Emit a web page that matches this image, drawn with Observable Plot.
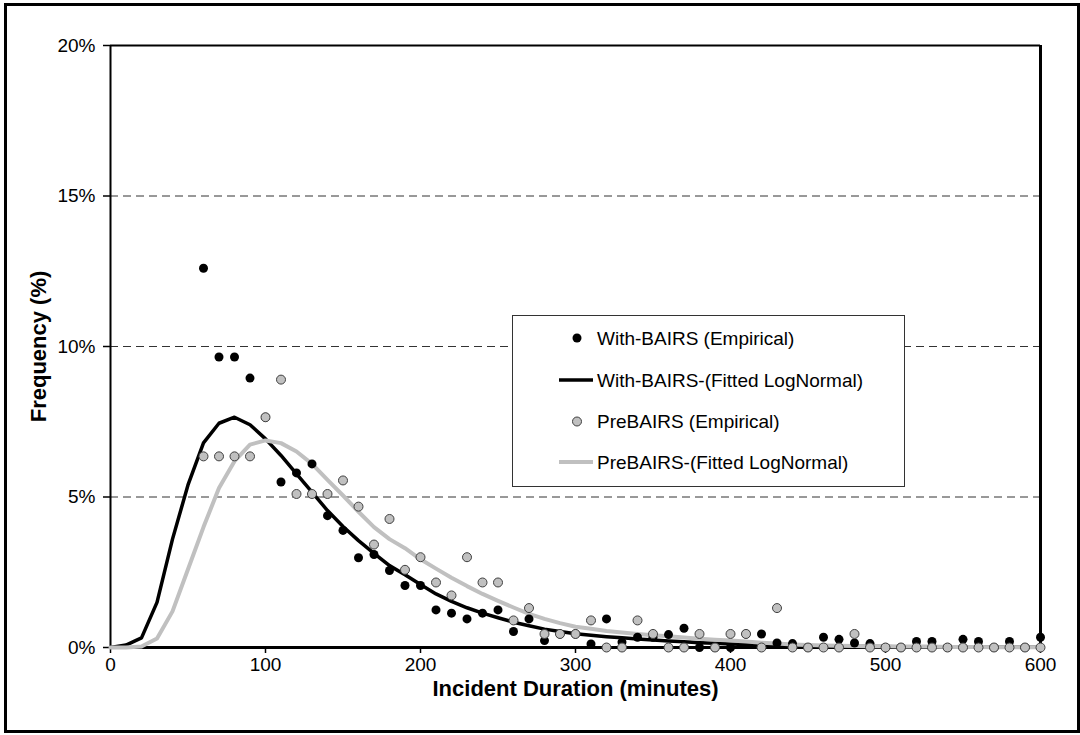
<!DOCTYPE html>
<html>
<head>
<meta charset="utf-8">
<script src="https://cdn.jsdelivr.net/npm/d3@7"></script>
<script src="https://cdn.jsdelivr.net/npm/@observablehq/plot@0.6"></script>
<style>
  body { margin: 0; background: #fff; }
  #chart svg { font-family: "Liberation Sans", Arial, sans-serif; }
</style>
</head>
<body>
<div id="chart"></div>
<script>
// Incident duration (minutes)
const fitMinutes = [0,10,20,30,40,50,60,70,80,90,100,110,120,130,140,150,160,170,180,190,200,210,220,230,240,250,260,270,280,290,300,310,320,330,340,350,360,370,380,390,400,410,420,430,440,450,460,470,480,490,500,510,520,530,540,550,560,570,580,590,600];
const empMinutes = [60,70,80,90,100,110,120,130,140,150,160,170,180,190,200,210,220,230,240,250,260,270,280,290,300,310,320,330,340,350,360,370,380,390,400,410,420,430,440,450,460,470,480,490,500,510,520,530,540,550,560,570,580,590,600];

// Frequency (%)
const withEmpirical = [12.6,9.65,9.65,8.95,7.65,5.5,5.8,6.1,4.38,3.89,2.98,3.09,2.56,2.06,2.06,1.25,1.14,0.95,1.14,1.25,0.53,0.95,0.23,0.45,0.45,0.12,0.95,0.18,0.34,0.34,0.43,0.64,0,0,0,0.45,0.45,0.15,0.13,0,0.34,0.27,0.15,0.13,0,0,0.2,0.2,0,0.27,0.2,0,0.2,0,0.34];
const preEmpirical = [6.35,6.35,6.35,6.35,7.65,8.9,5.1,5.1,5.1,5.55,4.68,3.42,4.27,2.58,3.0,2.16,1.73,3.0,2.16,2.16,0.9,1.31,0.45,0.45,0.45,0.9,0,0,0.9,0.45,0,0,0.45,0,0.45,0.45,0,1.31,0,0,0,0,0.45,0,0,0,0,0,0,0,0,0,0,0,0];
const withFitted = [0,0.08,0.32,1.5,3.6,5.4,6.8,7.45,7.65,7.4,6.93,6.38,5.77,5.16,4.55,4.02,3.55,3.13,2.72,2.42,2.09,1.78,1.53,1.32,1.14,0.99,0.84,0.72,0.61,0.53,0.46,0.41,0.36,0.32,0.28,0.25,0.22,0.19,0.16,0.14,0.12,0.1,0.09,0.08,0.07,0.06,0.05,0.04,0.04,0.03,0.03,0.02,0.02,0.02,0.02,0.01,0.01,0.01,0.01,0.01,0.01];
const preFitted = [0,0,0.03,0.3,1.2,2.6,4.0,5.3,6.19,6.74,6.88,6.79,6.51,6.1,5.57,5.05,4.51,4.0,3.6,3.3,2.93,2.62,2.32,2.04,1.78,1.55,1.33,1.12,0.95,0.81,0.69,0.62,0.55,0.5,0.45,0.41,0.37,0.33,0.29,0.26,0.23,0.2,0.16,0.13,0.1,0.08,0.07,0.06,0.05,0.04,0.04,0.03,0.03,0.03,0.02,0.02,0.02,0.01,0.01,0.01,0.01];

const xTicks = [0,100,200,300,400,500,600];
const yTicks = [0,5,10,15,20];
const gridValues = [5,10,15];

const seriesNames = ["With-BAIRS (Empirical)", "With-BAIRS-(Fitted LogNormal)", "PreBAIRS (Empirical)", "PreBAIRS-(Fitted LogNormal)"];
const xTitle = "Incident Duration (minutes)";
const yTitle = "Frequency (%)";

const withEmpData = empMinutes.map((t, i) => ({t, v: withEmpirical[i]}));
const preEmpData = empMinutes.map((t, i) => ({t, v: preEmpirical[i]}));
const withFitData = fitMinutes.map((t, i) => ({t, v: withFitted[i]}));
const preFitData = fitMinutes.map((t, i) => ({t, v: preFitted[i]}));

const FS = 19;
const TFS = 22;
const chart = Plot.plot({
  width: 1080,
  height: 735,
  marginLeft: 110,
  marginRight: 40,
  marginTop: 45,
  marginBottom: 88,
  style: {fontFamily: "'Liberation Sans', Arial, sans-serif", fontSize: FS + "px", background: "#fff", color: "#000"},
  x: {domain: [0, 600]},
  y: {domain: [0, 20]},
  marks: [
    Plot.ruleY(gridValues, {stroke: "#333", strokeWidth: 1, strokeDasharray: "8,5"}),
    Plot.axisX({ticks: xTicks, tickSize: 6, tickPadding: 4, fontSize: FS, label: null, stroke: "#000", strokeWidth: 1.5}),
    Plot.axisY({ticks: yTicks, tickSize: 7, tickPadding: 8, fontSize: FS, label: null, tickFormat: d => d + "%", stroke: "#000", strokeWidth: 1.5}),
    Plot.ruleY([20], {stroke: "#000", strokeWidth: 2}),
    Plot.ruleX([600], {stroke: "#000", strokeWidth: 3}),
    Plot.ruleX([0], {stroke: "#000", strokeWidth: 2}),
    Plot.ruleY([0], {stroke: "#000", strokeWidth: 3}),
    Plot.line(withFitData, {x: "t", y: "v", stroke: "#000", strokeWidth: 3.5}),
    Plot.line(preFitData, {x: "t", y: "v", stroke: "#c0c0c0", strokeWidth: 4}),
    Plot.dot(withEmpData, {x: "t", y: "v", r: 4.5, fill: "#000", stroke: "none"}),
    Plot.dot(preEmpData, {x: "t", y: "v", r: 4.5, fill: "#c0c0c0", stroke: "#404040", strokeWidth: 1}),
    Plot.text([xTitle], {frameAnchor: "bottom", dy: 48, textAnchor: "middle", fontWeight: "bold", fontSize: TFS, fill: "#000"}),
    Plot.text([yTitle], {frameAnchor: "left", dx: -72, textAnchor: "middle", rotate: -90, fontWeight: "bold", fontSize: TFS, fill: "#000"})
  ]
});

const svg = d3.select(chart);
// outer border
svg.append("rect").attr("x", 5.5).attr("y", 4.5).attr("width", 1073).attr("height", 727)
  .attr("fill", "none").attr("stroke", "#000").attr("stroke-width", 3);

// legend
const lg = svg.append("g").attr("font-family", "'Liberation Sans', Arial, sans-serif").attr("font-size", FS).attr("text-anchor", "start");
lg.append("rect").attr("x", 512.5).attr("y", 315.5).attr("width", 392).attr("height", 171)
  .attr("fill", "#fff").attr("stroke", "#333").attr("stroke-width", 1);
const rowsY = [338, 380, 421.5, 462];
const textX = 597;
lg.append("circle").attr("cx", 577).attr("cy", rowsY[0]).attr("r", 4.5).attr("fill", "#000");
lg.append("line").attr("x1", 559).attr("x2", 593).attr("y1", rowsY[1]).attr("y2", rowsY[1]).attr("stroke", "#000").attr("stroke-width", 3.5);
lg.append("circle").attr("cx", 577).attr("cy", rowsY[2]).attr("r", 4.5).attr("fill", "#c0c0c0").attr("stroke", "#404040").attr("stroke-width", 1);
lg.append("line").attr("x1", 559).attr("x2", 593).attr("y1", rowsY[3]).attr("y2", rowsY[3]).attr("stroke", "#c0c0c0").attr("stroke-width", 4);
seriesNames.forEach((name, i) => {
  lg.append("text").attr("x", textX).attr("y", rowsY[i]).attr("dy", "0.35em").attr("text-anchor", "start").attr("fill", "#000").text(name);
});

document.getElementById("chart").appendChild(chart);
</script>
</body>
</html>
